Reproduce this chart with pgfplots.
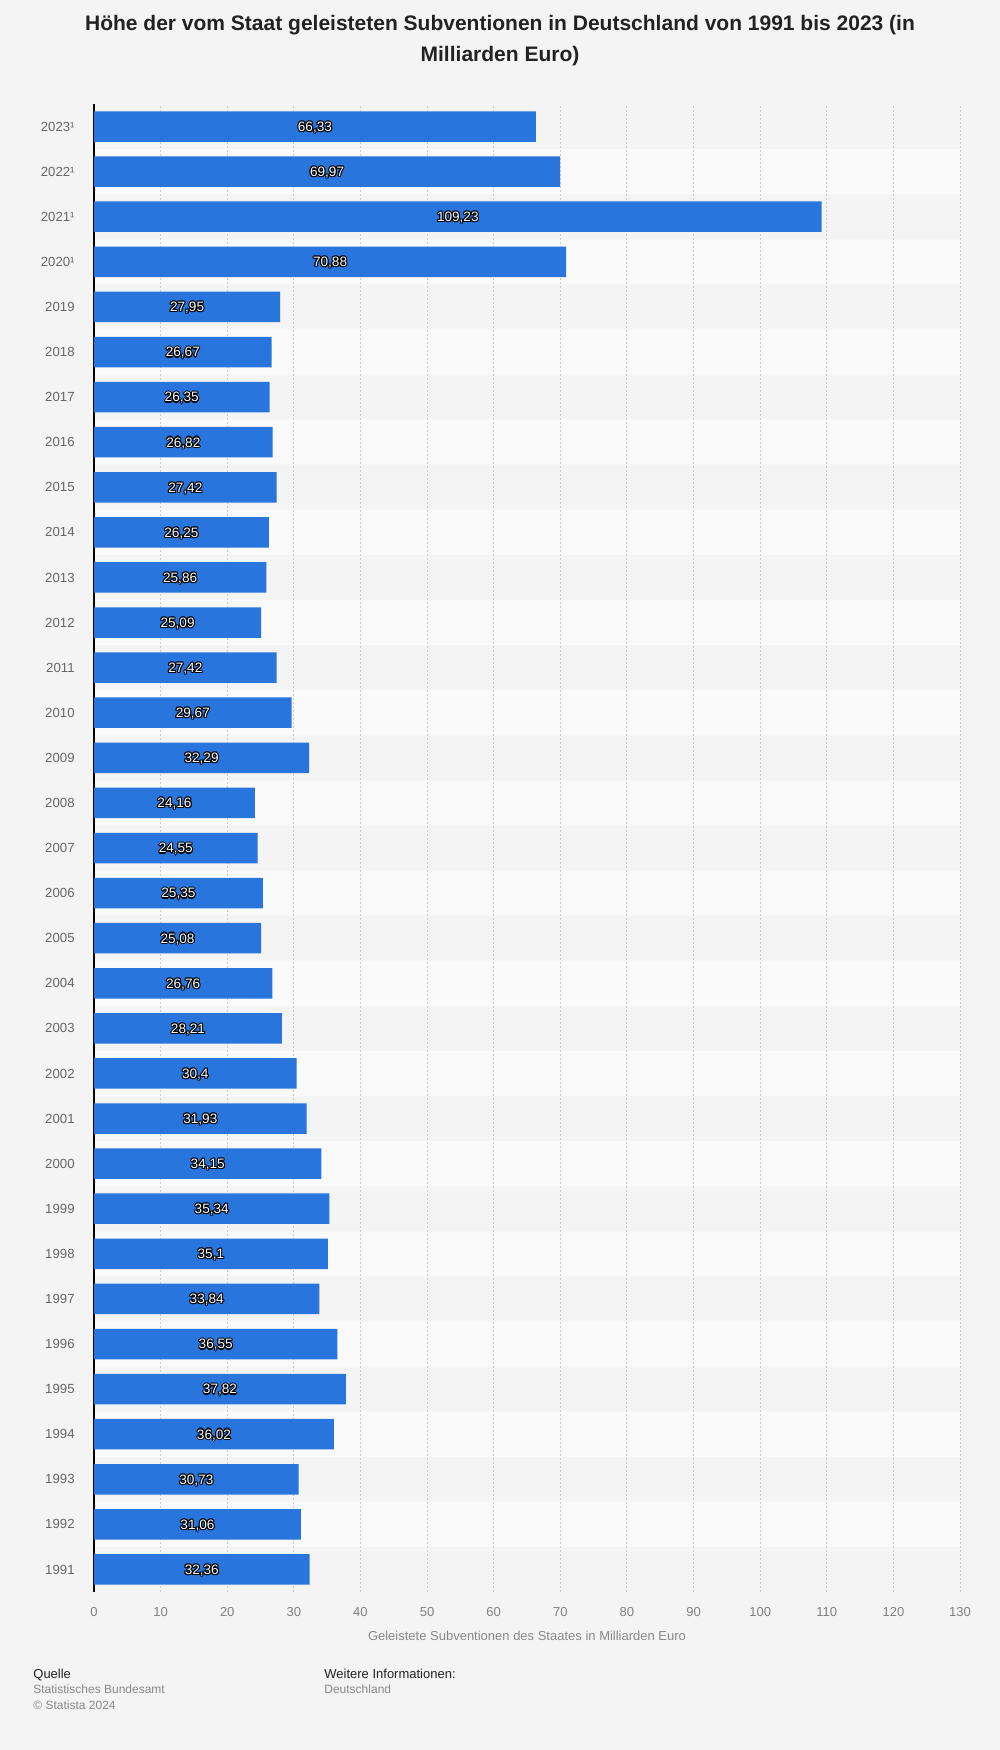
\documentclass[border=0pt]{standalone}
\usepackage{pgfplots}
\pgfplotsset{compat=1.18}
\usepackage{pgfplotstable}
\usepackage{fontspec}
\setmainfont{Liberation Sans}
\definecolor{bg}{HTML}{F4F4F4}
\definecolor{stripe}{HTML}{FAFAFA}
\definecolor{barblue}{HTML}{2876DD}
\definecolor{titlecol}{HTML}{222222}
\definecolor{ylabcol}{HTML}{666666}
\definecolor{xtickcol}{HTML}{808080}
\definecolor{gridcol}{HTML}{CCCCCC}
\definecolor{footgray}{HTML}{888888}
\pagecolor{bg}

\pgfplotstableread{
i v lab
0 32.36 32,36
1 31.06 31,06
2 30.73 30,73
3 36.02 36,02
4 37.82 37,82
5 36.55 36,55
6 33.84 33,84
7 35.1 35,1
8 35.34 35,34
9 34.15 34,15
10 31.93 31,93
11 30.4 30,4
12 28.21 28,21
13 26.76 26,76
14 25.08 25,08
15 25.35 25,35
16 24.55 24,55
17 24.16 24,16
18 32.29 32,29
19 29.67 29,67
20 27.42 27,42
21 25.09 25,09
22 25.86 25,86
23 26.25 26,25
24 27.42 27,42
25 26.82 26,82
26 26.35 26,35
27 26.67 26,67
28 27.95 27,95
29 70.88 70,88
30 109.23 109,23
31 69.97 69,97
32 66.33 66,33
}\data

\pgfplotstableread{
i v
1 130
3 130
5 130
7 130
9 130
11 130
13 130
15 130
17 130
19 130
21 130
23 130
25 130
27 130
29 130
31 130
}\stripes

\newcommand\lab[3]{%
\addplot[only marks, mark=*, mark size=0pt, mark options={draw=none, fill=none},
  point meta=explicit symbolic,
  nodes near coords, nodes near coords align=center,
  every node near coord/.style={font=\fontsize{6.8}{7}\selectfont, text=#1, anchor=center, inner sep=0pt, xshift=#2, yshift=#3-0.5pt}]
  table[x expr=\thisrow{v}/2, y=i, meta=lab] {\data};}

\begin{document}
\begin{tikzpicture}[x=1pt,y=1pt]
\path (0,0) rectangle (500,-875);
\begin{axis}[
  at={(47pt,-796pt)}, anchor=south west,
  scale only axis, width=433pt, height=744pt,
  set layers,
  xmin=0, xmax=130, ymin=-0.5, ymax=32.5,
  xtick={0,10,...,130},
  ytick={0,...,32},
  yticklabels={1991,1992,1993,1994,1995,1996,1997,1998,1999,2000,2001,2002,2003,2004,2005,2006,2007,2008,2009,2010,2011,2012,2013,2014,2015,2016,2017,2018,2019,2020¹,2021¹,2022¹,2023¹},
  axis x line*=bottom, axis y line*=left,
  x axis line style={draw=none},
  y axis line style={-, draw=black, line width=0.6pt},
  tick style={draw=none},
  xmajorgrids,
  major grid style={draw=gridcol, line width=0.5pt, dash pattern=on 1pt off 1pt},
  /pgf/number format/assume math mode=true,
  xticklabel style={font=\fontsize{6.5}{7}\selectfont, text=xtickcol, anchor=north, inner sep=0pt, yshift=-7.5pt},
  yticklabel style={font=\fontsize{6.6}{7}\selectfont, text=ylabcol, anchor=east, inner sep=0pt, xshift=-9.5pt},
  xlabel={Geleistete Subventionen des Staates in Milliarden Euro},
  xlabel style={font=\fontsize{6.5}{7}\selectfont, text=footgray, at={(axis description cs:0.5,0)}, anchor=center, yshift=-22pt},
]
\addplot[xbar, bar width=22.55pt, bar shift=0pt, fill=stripe, draw=none, on layer=axis background] table[x=v, y=i] {\stripes};
\addplot[xbar, bar width=15.25pt, bar shift=0pt, fill=barblue, draw=none] table[x=v, y=i] {\data};
\lab{black}{-0.58pt}{0pt}
\lab{black}{0.58pt}{0pt}
\lab{black}{0pt}{0.58pt}
\lab{black}{0pt}{-0.58pt}
\lab{black}{-0.42pt}{0.42pt}
\lab{black}{0.42pt}{0.42pt}
\lab{black}{-0.42pt}{-0.42pt}
\lab{black}{0.42pt}{-0.42pt}
\lab{white}{0pt}{0pt}
\end{axis}
\node[anchor=base, font=\bfseries\fontsize{10.5}{12}\selectfont, text=titlecol] at (250,-15.25) {Höhe der vom Staat geleisteten Subventionen in Deutschland von 1991 bis 2023 (in};
\node[anchor=base, font=\bfseries\fontsize{10.5}{12}\selectfont, text=titlecol] at (250,-30.75) {Milliarden Euro)};
\node[anchor=base west, inner sep=0pt, font=\fontsize{6.5}{7}\selectfont, text=titlecol] at (16.5,-839) {Quelle};
\node[anchor=base west, inner sep=0pt, font=\fontsize{6}{7}\selectfont, text=footgray] at (16.5,-846.75) {Statistisches Bundesamt};
\node[anchor=base west, inner sep=0pt, font=\fontsize{6}{7}\selectfont, text=footgray] at (16.5,-854.75) {© Statista 2024};
\node[anchor=base west, inner sep=0pt, font=\fontsize{6.5}{7}\selectfont, text=titlecol] at (162,-839) {Weitere Informationen:};
\node[anchor=base west, inner sep=0pt, font=\fontsize{6}{7}\selectfont, text=footgray] at (162,-846.75) {Deutschland};
\end{tikzpicture}
\end{document}
